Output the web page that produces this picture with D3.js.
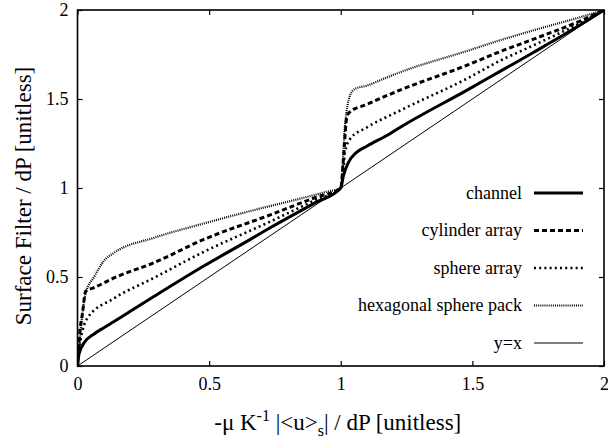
<!DOCTYPE html>
<html><head><meta charset="utf-8">
<script src="https://cdn.jsdelivr.net/npm/d3@7/dist/d3.min.js"></script>
<style>
body{margin:0;background:#fff}
svg{display:block}
svg text{font-family:"Liberation Serif","Times New Roman",Times,"Tinos","Nimbus Roman","DejaVu Serif",serif !important;fill:#000}
</style>
</head><body>
<svg id="chart" width="608" height="441"></svg>
<script>
// ---- data ----
const channelX = [0, 0.006, 0.025, 0.063, 0.1, 0.139, 0.225, 0.29, 0.478, 0.655, 0.73, 0.9, 1.0, 1.01, 1.029, 1.06, 1.099, 1.187, 1.225, 1.48, 1.605, 1.73, 1.92, 2];
const channelY = [0, 0.07, 0.13, 0.18, 0.215, 0.25, 0.33, 0.39, 0.56, 0.71, 0.775, 0.915, 1.0, 1.068, 1.143, 1.2, 1.235, 1.305, 1.34, 1.55, 1.655, 1.76, 1.925, 2];

const cylinderX = [0, 0.006, 0.019, 0.031, 0.063, 0.139, 0.29, 0.478, 0.73, 0.9, 1.0, 1.01, 1.023, 1.033, 1.099, 1.225, 1.48, 1.605, 1.73, 1.92, 2];
const cylinderY = [0, 0.147, 0.297, 0.42, 0.44, 0.495, 0.58, 0.71, 0.848, 0.945, 1.0, 1.16, 1.397, 1.425, 1.47, 1.55, 1.69, 1.766, 1.835, 1.945, 2];

const sphereX = [0, 0.005, 0.012, 0.038, 0.139, 0.29, 0.478, 0.73, 0.9, 1.0, 1.01, 1.016, 1.035, 1.099, 1.225, 1.48, 1.605, 1.73, 1.92, 2];
const sphereY = [0, 0.08, 0.15, 0.27, 0.38, 0.495, 0.64, 0.81, 0.93, 1.0, 1.105, 1.2, 1.275, 1.34, 1.435, 1.615, 1.715, 1.80, 1.935, 2];

const hexX = [0, 0.006, 0.012, 0.031, 0.063, 0.1, 0.139, 0.29, 0.478, 0.655, 0.845, 0.95, 1.0, 1.016, 1.035, 1.054, 1.099, 1.162, 1.225, 1.48, 1.605, 1.73, 1.922, 2];
const hexY = [0, 0.1, 0.2, 0.41, 0.50, 0.59, 0.636, 0.72, 0.80, 0.87, 0.94, 0.98, 1.0, 1.35, 1.519, 1.557, 1.575, 1.613, 1.65, 1.77, 1.83, 1.885, 1.965, 2];

const identityX = [0, 2];
const identityY = [0, 2];

const seriesNames = ["channel", "cylinder array", "sphere array", "hexagonal sphere pack", "y=x"];
const tickValues = [0, 0.5, 1, 1.5, 2];
const tickLabels = ["0", "0.5", "1", "1.5", "2"];
const xTitle = "-\u03BC K";
const yTitle = "Surface Filter / dP [unitless]";

// ---- layout ----
const FONT = '"Liberation Serif","Times New Roman",Times,"Tinos","Nimbus Roman","DejaVu Serif",serif';
const svg = d3.select("#chart");
const mLeft = 77.5, mRight = 604, mTop = 10, mBottom = 366;
const x = d3.scaleLinear().domain([0, 2]).range([mLeft, mRight]);
const y = d3.scaleLinear().domain([0, 2]).range([mBottom, mTop]);

const styles = [
  {w: 3, dash: null},
  {w: 3, dash: "5,3"},
  {w: 2.6, dash: "2,3.2"},
  {w: 2.2, dash: "1,1.1"},
  {w: 1, dash: null}
];
const series = [
  [channelX, channelY], [cylinderX, cylinderY], [sphereX, sphereY], [hexX, hexY], [identityX, identityY]
];

const curveLine = d3.line().x(d => x(d[0])).y(d => y(d[1])).curve(d3.curveMonotoneX);
const straightLine = d3.line().x(d => x(d[0])).y(d => y(d[1]));

svg.append("defs").append("clipPath").attr("id", "clip")
  .append("rect").attr("x", mLeft).attr("y", mTop).attr("width", mRight - mLeft).attr("height", mBottom - mTop);

const g = svg.append("g").attr("clip-path", "url(#clip)");
series.forEach((s, i) => {
  const pts = s[0].map((v, j) => [v, s[1][j]]);
  g.append("path")
    .attr("d", i === 4 ? straightLine(pts) : curveLine(pts))
    .attr("fill", "none").attr("stroke", "#000")
    .attr("stroke-width", styles[i].w)
    .attr("stroke-dasharray", styles[i].dash)
    .attr("stroke-linejoin", "round");
});

// axes
const fmt = (d) => tickLabels[tickValues.indexOf(d)];
const axB = svg.append("g").attr("transform", `translate(0,${mBottom})`)
  .call(d3.axisBottom(x).tickValues(tickValues).tickFormat(fmt).tickSizeInner(-5).tickSizeOuter(0).tickPadding(11));
const axL = svg.append("g").attr("transform", `translate(${mLeft},0)`)
  .call(d3.axisLeft(y).tickValues(tickValues).tickFormat(fmt).tickSizeInner(-5).tickSizeOuter(0).tickPadding(9));
const axT = svg.append("g").attr("transform", `translate(0,${mTop})`)
  .call(d3.axisTop(x).tickValues(tickValues).tickFormat("").tickSizeInner(-5).tickSizeOuter(0));
const axR = svg.append("g").attr("transform", `translate(${mRight},0)`)
  .call(d3.axisRight(y).tickValues(tickValues).tickFormat("").tickSizeInner(-5).tickSizeOuter(0));
[axB, axL, axT, axR].forEach(a => {
  a.select(".domain").remove();
  a.attr("font-family", FONT).attr("font-size", 18);
  a.selectAll("line").attr("stroke", "#000").attr("stroke-width", 1.2);
  a.selectAll("text").attr("font-family", FONT).attr("font-size", 18).attr("fill", "#000");
});

// frame
svg.append("rect").attr("x", mLeft).attr("y", mTop).attr("width", mRight - mLeft).attr("height", mBottom - mTop)
  .attr("fill", "none").attr("stroke", "#000").attr("stroke-width", 1.6);

// legend
const legY = d3.scalePoint().domain(seriesNames).range([193, 343]);
seriesNames.forEach((n, i) => {
  svg.append("text").attr("x", 522).attr("y", legY(n)).attr("dy", "0.33em")
    .attr("text-anchor", "end").attr("font-family", FONT).attr("font-size", 18).text(n);
  svg.append("line").attr("x1", 534).attr("x2", 583).attr("y1", legY(n)).attr("y2", legY(n))
    .attr("stroke", "#000").attr("stroke-width", styles[i].w).attr("stroke-dasharray", styles[i].dash);
});

// axis titles
const xt = svg.append("text").attr("x", (mLeft + mRight) / 2 - 3).attr("y", 430)
  .attr("text-anchor", "middle").attr("font-family", FONT).attr("font-size", 23);
xt.append("tspan").text(xTitle);
xt.append("tspan").attr("font-size", 16).attr("dy", -9).text("-1");
xt.append("tspan").attr("dy", 9).text(" |<u>");
xt.append("tspan").attr("font-size", 16).attr("dy", 6).text("s");
xt.append("tspan").attr("dy", -6).text("| / dP [unitless]");

svg.append("text").attr("transform", `translate(31,${(mTop + mBottom) / 2 + 8}) rotate(-90)`)
  .attr("text-anchor", "middle").attr("font-family", FONT).attr("font-size", 23).text(yTitle);
</script>
</body></html>
